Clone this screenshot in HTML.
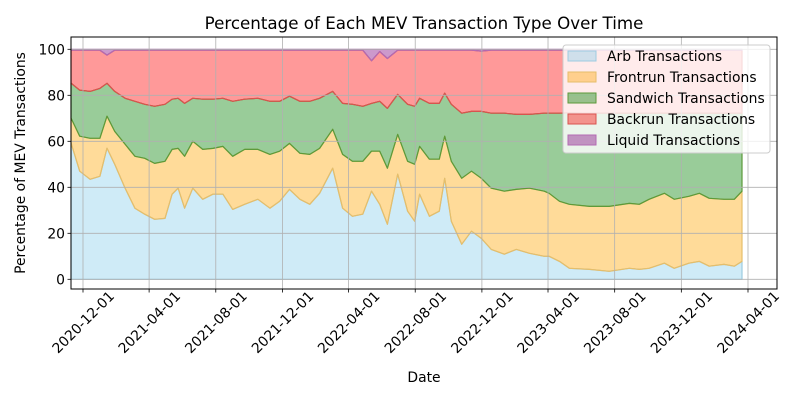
<!DOCTYPE html>
<html><head><meta charset="utf-8"><style>
body{margin:0;background:#fff;}
svg{display:block;font-family:"DejaVu Sans","Liberation Sans",sans-serif;}
</style></head><body>
<svg id="chart" width="800" height="400" viewBox="0 0 800 400">
<rect width="800" height="400" fill="#fff"/>
<text x="424" y="29" font-size="16.7" text-anchor="middle">Percentage of Each MEV Transaction Type Over Time</text>
<g id="plot"></g>
<text x="424" y="382" font-size="13.9" text-anchor="middle">Date</text>
<text transform="translate(25,163) rotate(-90)" font-size="13.9" text-anchor="middle">Percentage of MEV Transactions</text>
</svg>
<script>
const dates = ["2020-11-09","2020-11-25","2020-12-14","2021-01-01","2021-01-14","2021-01-28","2021-02-16","2021-03-06","2021-03-24","2021-04-11","2021-04-30","2021-05-13","2021-05-24","2021-06-05","2021-06-20","2021-07-08","2021-07-27","2021-08-14","2021-09-01","2021-09-23","2021-10-17","2021-11-08","2021-11-26","2021-12-14","2022-01-02","2022-01-20","2022-02-07","2022-03-03","2022-03-21","2022-04-08","2022-04-27","2022-05-13","2022-05-28","2022-06-11","2022-06-30","2022-07-18","2022-07-31","2022-08-09","2022-08-27","2022-09-14","2022-09-24","2022-10-06","2022-10-25","2022-11-12","2022-11-30","2022-12-18","2023-01-11","2023-02-02","2023-02-26","2023-03-25","2023-04-03","2023-04-22","2023-05-10","2023-06-16","2023-07-22","2023-08-28","2023-09-15","2023-10-03","2023-10-31","2023-11-18","2023-12-15","2024-01-03","2024-01-21","2024-02-17","2024-03-07","2024-03-21"];
const arb = [59.3,47.0,43.5,44.8,57.0,50.0,39.6,30.9,28.3,26.1,26.5,37.0,39.6,30.9,39.6,34.8,37.0,37.0,30.4,32.6,34.8,30.9,33.9,39.1,34.8,32.6,37.4,48.3,30.9,27.4,28.3,38.3,32.6,23.9,45.7,29.6,25.2,37.0,27.4,29.6,43.9,25.2,15.2,20.9,17.8,13.0,10.9,13.0,11.3,10.0,10.0,7.8,4.8,4.3,3.5,4.8,4.3,4.8,7.0,4.8,7.0,7.8,5.7,6.5,5.7,7.8];
const frontrun = [10.8,15.2,17.8,16.5,13.9,14.3,19.1,22.6,24.3,24.3,24.8,19.5,17.3,22.6,20.4,21.7,19.9,20.8,23.1,23.9,21.7,23.4,21.8,20.0,20.0,21.7,19.5,16.9,23.4,23.9,23.0,17.4,23.1,24.4,17.3,21.7,24.8,20.8,24.8,22.6,18.3,26.1,28.7,26.1,26.1,26.6,27.4,26.1,28.3,28.3,27.4,26.1,27.8,27.4,28.2,28.2,28.3,30.0,30.4,30.0,29.1,29.6,29.5,28.3,29.1,30.5];
const sandwich = [15.2,20.0,20.4,21.7,14.3,17.4,20.0,23.9,23.5,24.8,24.8,21.8,21.8,23.0,18.7,21.8,21.4,20.9,23.9,21.8,22.2,23.1,21.7,20.5,22.6,23.1,21.8,16.5,22.2,24.8,23.9,20.8,21.7,26.0,17.4,24.8,25.2,20.9,24.3,24.3,18.7,24.8,28.3,26.0,29.1,32.6,33.9,32.6,32.1,33.9,34.8,38.3,39.8,40.5,40.5,39.2,39.6,37.4,34.8,37.4,36.1,34.8,37.0,37.4,37.4,33.9];
const liquid = [0.4,0.4,0.4,0.4,2.5,0.4,0.4,0.4,0.4,0.4,0.4,0.4,0.4,0.4,0.4,0.4,0.4,0.4,0.4,0.4,0.4,0.4,0.4,0.4,0.4,0.4,0.4,0.4,0.4,0.4,0.4,5.0,1.0,4.0,0.4,0.4,0.4,0.4,0.4,0.4,0.4,0.4,0.4,0.4,0.8,0.4,0.4,0.4,0.4,0.4,0.4,0.4,0.4,0.4,0.4,0.4,0.4,0.4,0.4,0.4,0.4,0.4,0.4,0.4,0.4,0.4];
const backrun = arb.map((a,i)=>Math.max(0,+(100-a-frontrun[i]-sandwich[i]-liquid[i]).toFixed(1)));
const yTicks = [0,20,40,60,80,100];
const xTicks = ["2020-12-01","2021-04-01","2021-08-01","2021-12-01","2022-04-01","2022-08-01","2022-12-01","2023-04-01","2023-08-01","2023-12-01","2024-04-01"];

const NS="http://www.w3.org/2000/svg";
const L=71,R=777,T=37,B=289;
const d0=Date.parse("2020-12-01"), d1=Date.parse("2024-04-01");
function xs(d){return 83+(Date.parse(d)-d0)/(d1-d0)*(748-83);}
function ys(v){return 279.3-v*2.3;}
const plot=document.getElementById('plot');
function mk(tag,attrs,parent){const e=document.createElementNS(NS,tag);for(const k in attrs)e.setAttribute(k,attrs[k]);(parent||plot).appendChild(e);return e;}

const series=[
 {name:"arb",vals:arb,fill:"#87ceeb",stroke:"#9ccbe0"},
 {name:"frontrun",vals:frontrun,fill:"#ffa500",stroke:"#e6be6a"},
 {name:"sandwich",vals:sandwich,fill:"#008000",stroke:"#5c9a3a"},
 {name:"backrun",vals:backrun,fill:"#ff0000",stroke:"#d9534f"},
 {name:"liquid",vals:liquid,fill:"#800080",stroke:"#b36bb3"}
];
let base=dates.map(()=>0);
series.forEach(s=>{
 const top=base.map((b,i)=>b+s.vals[i]);
 let d="M"+dates.map((dt,i)=>xs(dt).toFixed(1)+","+ys(top[i]).toFixed(1)).join("L");
 for(let i=dates.length-1;i>=0;i--) d+="L"+xs(dates[i]).toFixed(1)+","+ys(base[i]).toFixed(1);
 d+="Z";
 const p=mk('path',{d:d,fill:s.fill,'fill-opacity':0.4,stroke:s.stroke,'stroke-width':1.2,'stroke-linejoin':'round'});
 
 
 base=top;
});
yTicks.forEach(v=>{
 const g=mk('line',{x1:L,x2:R,y1:ys(v),y2:ys(v),stroke:'#b0b0b0','stroke-width':0.8});
 
 
 const t=mk('line',{x1:L-3.5,x2:L,y1:ys(v),y2:ys(v),stroke:'#000','stroke-width':0.8});
 
 
 const tx=mk('text',{x:L-6,y:ys(v)+5,'font-size':13.9,'text-anchor':'end'});
 tx.textContent=v;
 
 
});
xTicks.forEach(d=>{
 const x=xs(d);
 const g=mk('line',{x1:x,x2:x,y1:T,y2:B,stroke:'#b0b0b0','stroke-width':0.8});
 
 
 const t=mk('line',{x1:x,x2:x,y1:B,y2:B+3.5,stroke:'#000','stroke-width':0.8});
 
 
 const cy=B+33;
 const tx=mk('text',{x:x,y:cy+5,'font-size':13.9,'text-anchor':'middle',transform:`rotate(-45 ${x} ${cy})`});
 tx.textContent=d;
 
 
});
const fr=mk('rect',{x:L,y:T,width:R-L,height:B-T,fill:'none',stroke:'#000','stroke-width':1});


const lg=mk('g',{});


mk('rect',{x:563,y:45,width:207,height:108,rx:3,fill:'#fff','fill-opacity':0.8,stroke:'#cccccc','stroke-width':1},lg);
const labels=["Arb Transactions","Frontrun Transactions","Sandwich Transactions","Backrun Transactions","Liquid Transactions"];
series.forEach((s,i)=>{
 const y=56+i*21;
 const r=mk('rect',{x:568,y:y-5,width:28,height:10,fill:s.fill,'fill-opacity':0.4,stroke:s.stroke,'stroke-width':1},lg);
 
 
 const t=mk('text',{x:607,y:y+5,'font-size':13.9},lg);
 t.textContent=labels[i];
 
 
});
</script>
</body></html>
